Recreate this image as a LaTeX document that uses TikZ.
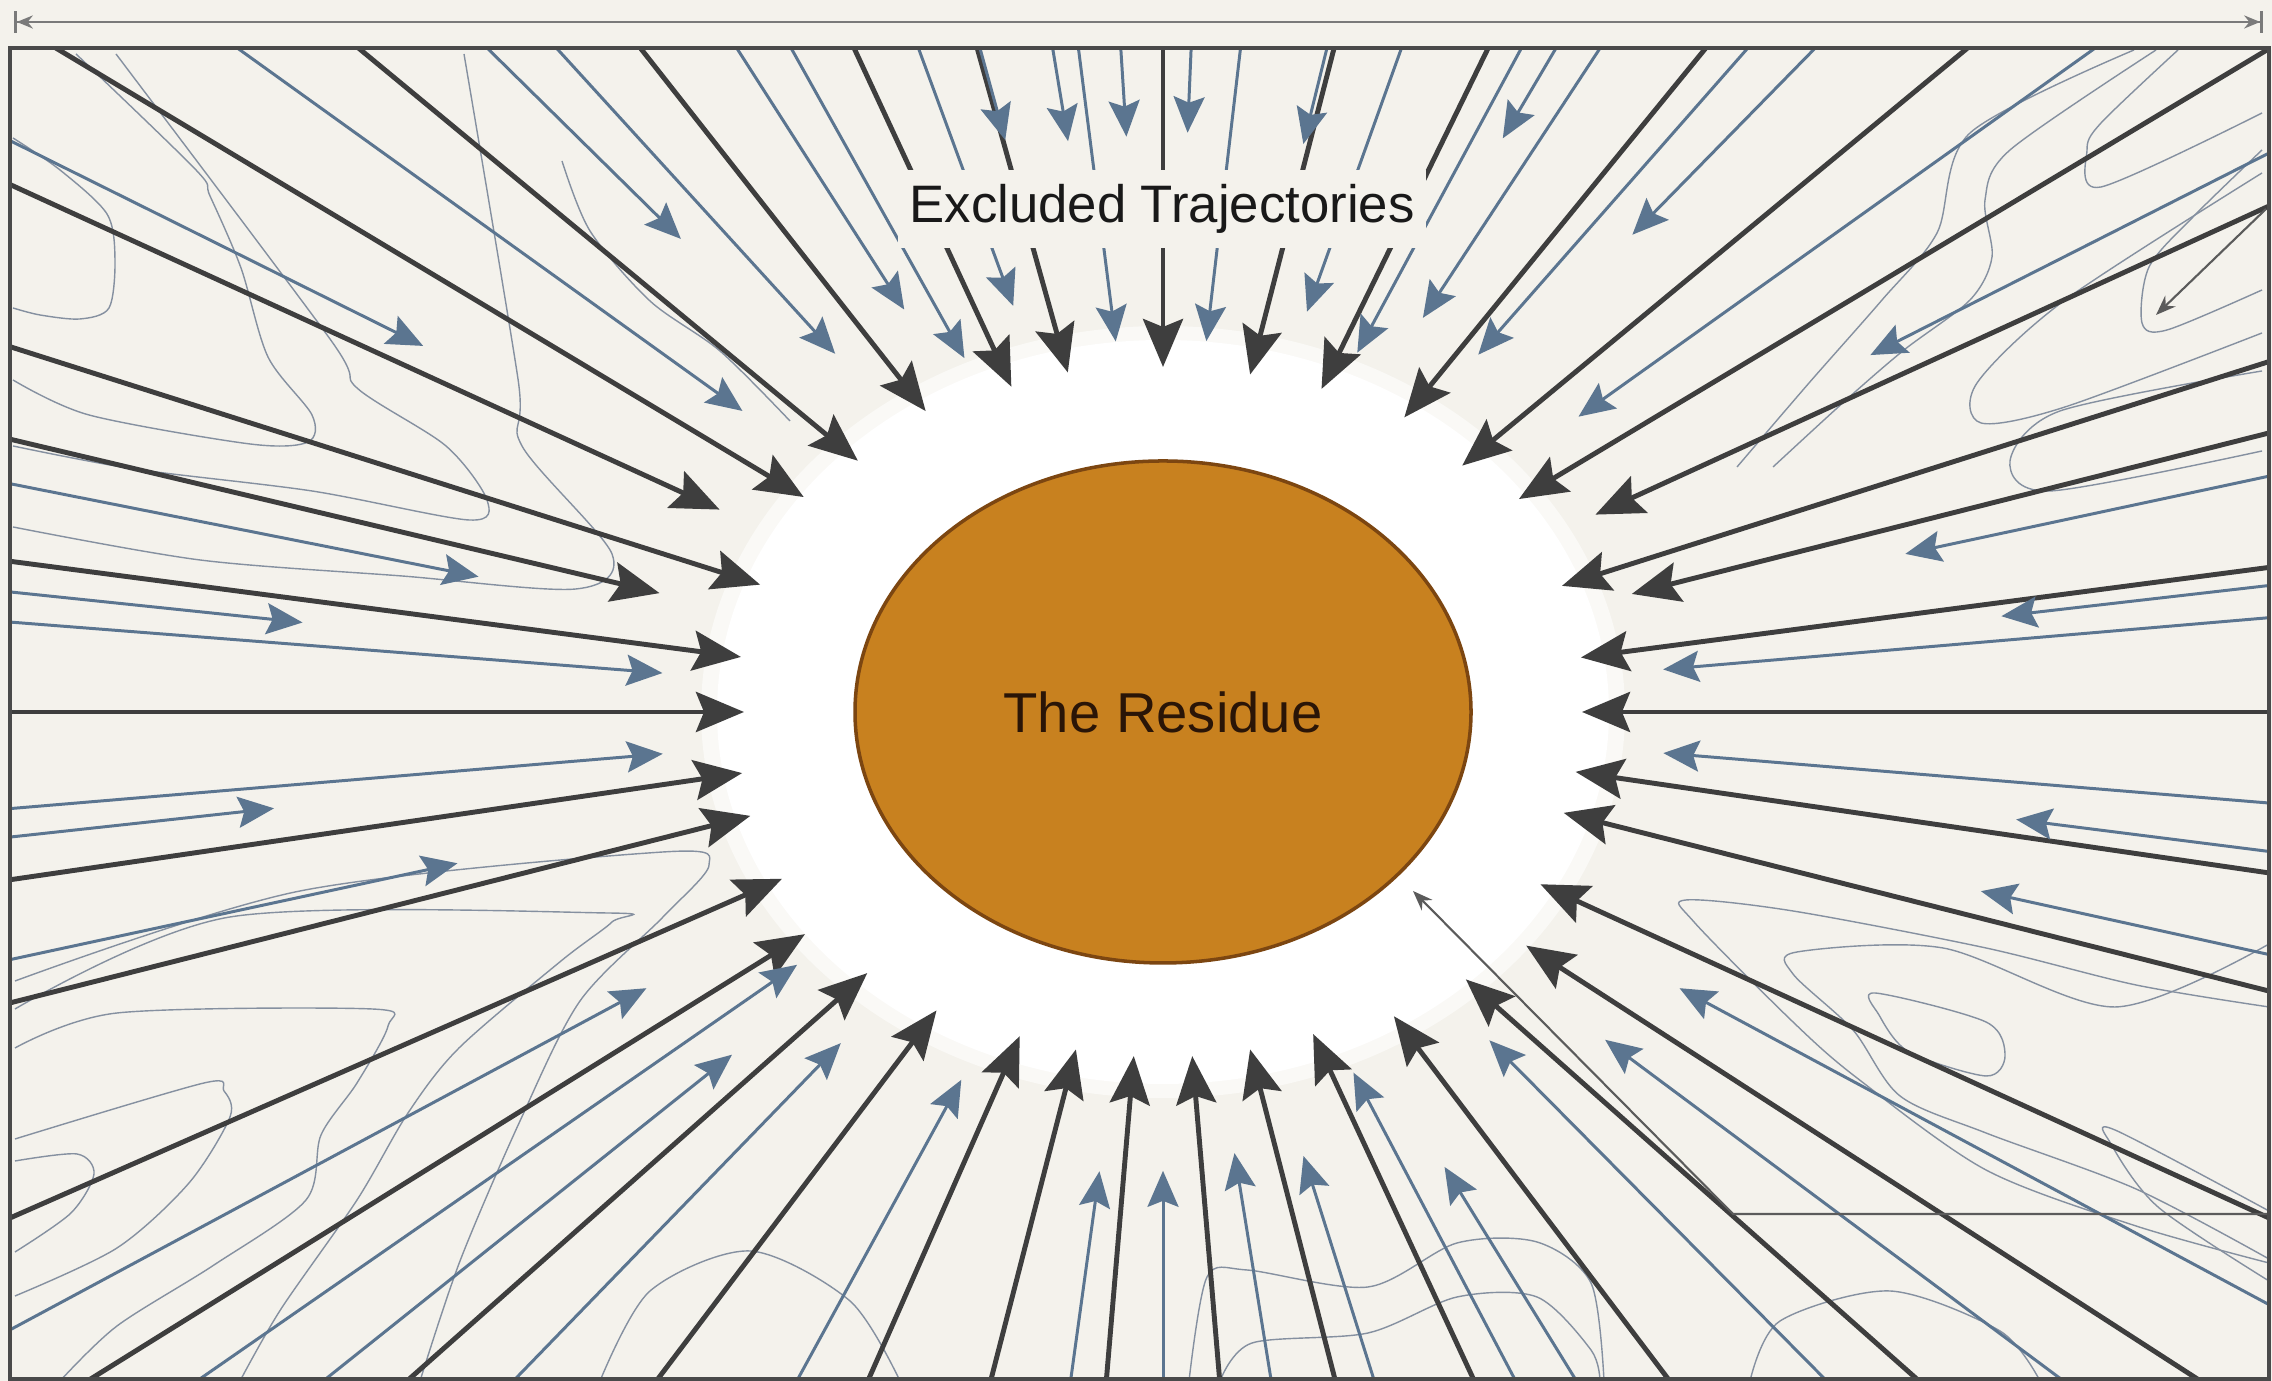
\documentclass[tikz,border=0pt]{standalone}
\usepackage{fontspec}
\setmainfont{Liberation Sans}
\usetikzlibrary{arrows.meta,calc,shapes.geometric}

\definecolor{paper}{HTML}{F4F2EC}
\definecolor{raydark}{HTML}{3E3E3E}
\definecolor{rayblue}{HTML}{5B7590}
\definecolor{contourgray}{HTML}{8590A0}
\definecolor{residuefill}{HTML}{C8811F}
\definecolor{residueedge}{HTML}{7C4611}
\definecolor{residuetext}{HTML}{2A1507}
\definecolor{framegray}{HTML}{4A4A4A}
\definecolor{dimgray}{HTML}{7A7A7A}

\tikzset{
  darkray/.style={draw=raydark, line width=1.4pt, -{Stealth[length=4.8mm,width=4mm,inset=0.8mm]}},
  blueray/.style={draw=rayblue, line width=0.85pt, -{Stealth[length=3.6mm,width=3.1mm,inset=0.6mm]}},
  contour/.style={draw=contourgray, line width=0.4pt},
  leader/.style={draw=raydark!85, line width=0.6pt, -{Stealth[length=2mm,width=1.5mm]}},
  dimline/.style={draw=dimgray, line width=0.8pt, {Bar[width=2.2mm]Stealth[length=1.6mm,width=1.3mm]}-{Stealth[length=1.6mm,width=1.3mm]Bar[width=2.2mm]}},
}

\begin{document}
\begin{tikzpicture}
\fill[paper] (0,0) rectangle (22.72,13.81);
\useasboundingbox (0,0) rectangle (22.72,13.81);
\coordinate (c) at (11.63,6.69);
\coordinate (dimL) at (0.14,13.59);
\coordinate (dimR) at (22.63,13.59);
\draw[dimline] (dimL) -- (dimR);

\begin{scope}
\clip (0.10,0.02) rectangle (22.69,13.33);
% background contours
\draw[contour] plot[smooth] coordinates {(0.13,12.43) (0.60,12.11) (1.07,11.67) (1.15,11.21) (1.09,10.73) (0.80,10.62) (0.40,10.66) (0.13,10.73)};
\draw[contour] plot[smooth] coordinates {(0.76,13.27) (1.96,12.11) (2.10,11.85) (2.41,11.13) (2.68,10.24) (3.12,9.66) (3.08,9.39) (2.50,9.37) (0.89,9.66) (0.13,10.01)};
\draw[contour] plot[smooth] coordinates {(1.16,13.27) (3.30,10.42) (3.57,9.93) (4.46,9.35) (4.87,8.81) (4.69,8.61) (3.12,8.90) (1.34,9.12) (0.13,9.35)};
\draw[contour] plot[smooth] coordinates {(4.64,13.27) (5.18,10.02) (5.22,9.35) (6.12,8.27) (5.76,7.92) (4.02,8.05) (2.00,8.21) (0.13,8.54)};
\draw[contour] plot[smooth] coordinates {(5.62,12.20) (5.90,11.50) (6.50,10.80) (7.20,10.30) (7.90,9.60)};
\draw[contour] plot[smooth] coordinates {(0.15,2.20) (0.77,2.27) (0.94,2.07) (0.71,1.68) (0.15,1.29)};
\draw[contour] plot[smooth] coordinates {(0.15,2.42) (2.04,2.98) (2.24,2.90) (2.30,2.64) (1.89,1.98) (1.17,1.33) (0.15,0.85)};
\draw[contour] plot[smooth] coordinates {(0.15,3.33) (1.17,3.68) (3.72,3.72) (3.88,3.55) (3.57,2.98) (3.21,2.46) (3.06,1.81) (2.14,1.16) (1.17,0.55) (0.60,0.0)};
\draw[contour] plot[smooth] coordinates {(0.15,3.72) (2.30,4.64) (6.07,4.68) (6.12,4.59) (5.61,4.20) (4.59,3.33) (4.08,2.68) (3.57,1.81) (2.81,0.72) (2.40,0.0)};
\draw[contour] plot[smooth] coordinates {(0.15,4.00) (3.00,4.90) (6.63,5.29) (7.09,5.16) (6.63,4.64) (5.80,3.80) (5.20,2.60) (4.60,1.20) (4.20,0.0)};
\draw[contour] plot[smooth] coordinates {(22.62,12.68) (21.01,11.94) (20.87,12.31) (21.01,12.58) (21.78,13.31)};
\draw[contour] plot[smooth] coordinates {(22.62,12.31) (21.93,11.64) (21.49,11.14) (21.42,10.58) (21.67,10.51) (22.62,10.91)};
\draw[contour] plot[smooth] coordinates {(22.62,12.08) (20.65,10.81) (19.77,9.98) (19.81,9.58) (20.65,9.74) (22.62,10.48)};
\draw[contour] plot[smooth] coordinates {(21.56,13.31) (20.10,12.31) (19.85,11.81) (19.92,11.24) (19.70,10.81) (19.04,10.31) (18.46,9.81) (17.73,9.14)};
\draw[contour] plot[smooth] coordinates {(21.34,13.31) (19.70,12.48) (19.37,11.48) (18.82,10.81) (18.09,9.98) (17.37,9.14)};
\draw[contour] plot[smooth] coordinates {(22.62,10.10) (20.60,9.70) (20.10,9.20) (20.50,8.90) (22.62,9.30)};
\draw[contour] plot[smooth cycle] coordinates {(18.75,3.88) (19.86,3.59) (20.05,3.25) (19.86,3.05) (19.09,3.29) (18.79,3.66)};
\draw[contour] plot[smooth] coordinates {(22.69,4.37) (21.15,3.74) (19.43,4.33) (17.97,4.29) (17.93,4.07) (18.53,3.51) (19.00,2.85) (19.86,2.48) (21.36,1.92) (22.69,1.22)};
\draw[contour] plot[smooth] coordinates {(22.69,3.74) (21.36,3.96) (19.86,4.33) (17.93,4.70) (16.86,4.81) (16.94,4.59) (17.93,3.59) (18.57,3.03) (19.86,2.11) (21.36,1.55) (22.69,1.18)};
\draw[contour] plot[smooth] coordinates {(22.69,1.70) (21.15,2.51) (21.11,2.37) (21.58,1.74) (22.69,1.00)};
\draw[contour] plot[smooth] coordinates {(11.89,0.0) (12.07,1.04) (12.47,1.11) (13.68,0.94) (14.57,1.38) (15.37,1.39) (15.91,0.98) (16.04,0.0)};
\draw[contour] plot[smooth] coordinates {(12.20,0.0) (12.52,0.38) (13.68,0.48) (14.57,0.84) (15.37,0.84) (15.91,0.31) (16.00,0.0)};
\draw[contour] plot[smooth] coordinates {(6.00,0.0) (6.50,0.90) (7.50,1.30) (8.50,0.80) (9.00,0.0)};
\draw[contour] plot[smooth] coordinates {(17.50,0.0) (17.80,0.60) (18.90,0.90) (20.00,0.50) (20.40,0.0)};

% halo
\fill[white, opacity=0.55] (c) ellipse [x radius=4.62, y radius=3.86];
\fill[white] (c) ellipse [x radius=4.46, y radius=3.72];

\foreach \ang/\fac in {0/1, 9/1.01, 17/1.17, 21/1.02, 29/1.18, 36/1.05, 45/1.01, 56/1.03, 68/1.01, 78/1, 90/1, 103/1.01, 111/1.01, 123/1.04, 135/1.03, 144/1.06, 151/1.21, 159/1.03, 164/1.25, 171/1.02, 180/1, 190/1.02, 197/1.03, 208/1.03, 217/1.07, 227/1.035, 238/1.02, 250/1, 258/1, 266/1, 274/1, 282/1, 291/1, 302/1.04, 313/1.06, 322/1.1, 331/1.03, 343/1, 350/1} {
  \pgfmathsetmacro\tipx{4.19*\fac*cos(\ang)}
  \pgfmathsetmacro\tipy{3.45*\fac*sin(\ang)}
  \pgfmathsetmacro\farx{29.3*cos(\ang)}
  \pgfmathsetmacro\fary{24.2*sin(\ang)}
  \coordinate (far) at ($(c)+(\farx,\fary)$);
  \coordinate (tip) at ($(c)+(\tipx,\tipy)$);
  \draw[darkray] (far) -- (tip);
}
\foreach \ang/\fac in {5.9/1.2, 7.9/2.02, 14.5/1.83, 31.5/1.98, 40.8/1.31, 51/1.78, 54/1.28, 61.5/1.3, 64/1.85, 66/1.14, 73.5/1.21, 78.5/1.68, 84.5/1.08, 88/1.68, 93/1.67, 96/1.08, 97.8/1.67, 102.8/1.7, 106.9/1.23, 114.8/1.13, 117.9/1.32, 127/1.3, 130/1.79, 139/1.33, 149/2.06, 166.5/1.68, 172.8/2.07, 174.6/1.2, 185.8/1.2, 187.5/2.14, 194.6/1.74, 213/1.47, 220/1.14, 224/1.43, 231.3/1.23, 245.7/1.17, 263.5/1.34, 270/1.33, 277.6/1.29, 284.6/1.33, 293.5/1.14, 297/1.48, 309.3/1.23, 318/1.42, 327/1.47, 345.1/2.02, 351.3/2.06, 354.3/1.2} {
  \pgfmathsetmacro\tipx{4.19*\fac*cos(\ang)}
  \pgfmathsetmacro\tipy{3.45*\fac*sin(\ang)}
  \pgfmathsetmacro\farx{29.3*cos(\ang)}
  \pgfmathsetmacro\fary{24.2*sin(\ang)}
  \coordinate (far) at ($(c)+(\farx,\fary)$);
  \coordinate (tip) at ($(c)+(\tipx,\tipy)$);
  \draw[blueray] (far) -- (tip);
}

\coordinate (ldend) at (22.69,1.67);
\coordinate (ldknee) at (17.33,1.67);
\coordinate (ldtip) at (14.13,4.90);
\draw[leader] (ldend) -- (ldknee) -- (ldtip);
\coordinate (cornerA) at (22.66,11.72);
\coordinate (cornerB) at (21.56,10.66);
\draw[leader] (cornerA) -- (cornerB);
\end{scope}

\draw[draw=framegray, line width=1.1pt] (0.10,0.02) rectangle (22.69,13.33);

\node[fill=paper, inner xsep=0.12cm, inner ysep=0pt, minimum height=0.78cm, font=\fontsize{15}{18}\selectfont, text=black!90] (title) at (11.62,11.72) {Excluded Trajectories};
\node[ellipse, draw=residueedge, line width=1pt, fill=residuefill, minimum width=6.16cm, minimum height=5.02cm, inner sep=0pt, font=\fontsize{16}{19}\selectfont, text=residuetext] (res) at (c) {The Residue};
\end{tikzpicture}
\end{document}
